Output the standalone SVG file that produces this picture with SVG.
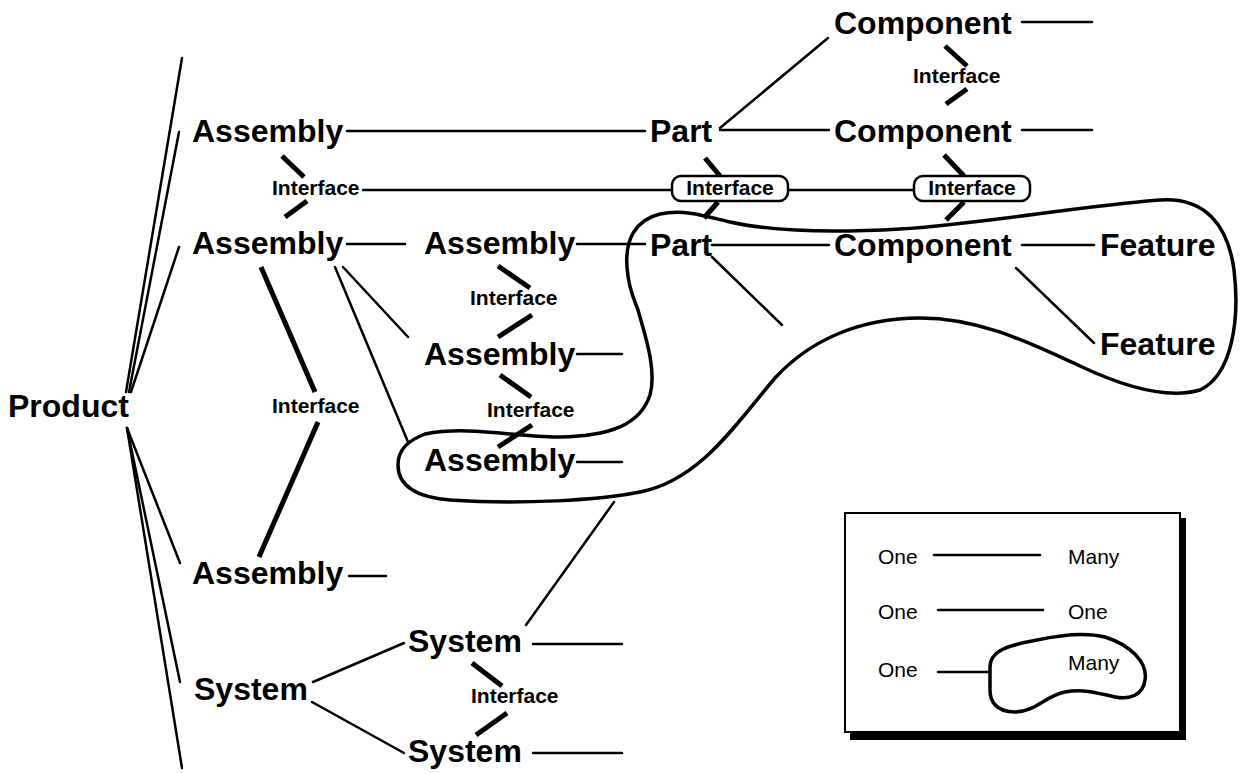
<svg xmlns="http://www.w3.org/2000/svg" width="1244" height="773" viewBox="0 0 1244 773">
<style>
.big{font-family:"Liberation Sans",Arial,sans-serif;font-weight:bold;font-size:32px;fill:#000}
.sm{font-family:"Liberation Sans",Arial,sans-serif;font-weight:bold;font-size:21px;fill:#000}
.lg{font-family:"Liberation Sans",Arial,sans-serif;font-size:21px;fill:#000}
.thin{stroke:#000;stroke-width:2.5;fill:none;stroke-linecap:round}
.thick{stroke:#000;stroke-width:5;fill:none}
.blob{stroke:#000;stroke-width:3.5;fill:none}
.box{stroke:#000;stroke-width:2.5;fill:#fff}
</style>
<rect width="1244" height="773" fill="#fff"/>
<g id="connectors">
  <!-- Product fan -->
  <line class="thin" x1="126" y1="392" x2="182" y2="58"/>
  <line class="thin" x1="129" y1="392" x2="179" y2="132"/>
  <line class="thin" x1="131" y1="392" x2="179" y2="247"/>
  <line class="thin" x1="127" y1="428" x2="180" y2="563"/>
  <line class="thin" x1="127" y1="428" x2="180" y2="682"/>
  <line class="thin" x1="127" y1="428" x2="182" y2="768"/>
  <!-- row 1 -->
  <line class="thin" x1="347" y1="131" x2="645" y2="131"/>
  <line class="thin" x1="720" y1="130" x2="829" y2="130"/>
  <line class="thin" x1="720" y1="128" x2="828" y2="38"/>
  <line class="thin" x1="1022" y1="22" x2="1092" y2="22"/>
  <line class="thin" x1="1022" y1="130" x2="1092" y2="130"/>
  <!-- interface row -->
  <line class="thin" x1="363" y1="190" x2="672" y2="190"/>
  <line class="thin" x1="788" y1="190" x2="914" y2="190"/>
  <!-- row 2 -->
  <line class="thin" x1="347" y1="244" x2="405" y2="244"/>
  <line class="thin" x1="577" y1="244" x2="645" y2="244"/>
  <line class="thin" x1="712" y1="245" x2="829" y2="245"/>
  <line class="thin" x1="1022" y1="245" x2="1094" y2="245"/>
  <line class="thin" x1="1016" y1="268" x2="1094" y2="343"/>
  <line class="thin" x1="712" y1="257" x2="782" y2="325"/>
  <line class="thin" x1="343" y1="267" x2="408" y2="337"/>
  <line class="thin" x1="335" y1="267" x2="408" y2="442"/>
  <line class="thin" x1="577" y1="354" x2="622" y2="354"/>
  <line class="thin" x1="577" y1="462" x2="622" y2="462"/>
  <line class="thin" x1="349" y1="576" x2="386" y2="576"/>
  <!-- systems -->
  <line class="thin" x1="313" y1="682" x2="404" y2="643"/>
  <line class="thin" x1="312" y1="702" x2="404" y2="753"/>
  <line class="thin" x1="533" y1="644" x2="622" y2="644"/>
  <line class="thin" x1="533" y1="753" x2="622" y2="753"/>
  <line class="thin" x1="526" y1="625" x2="614" y2="502"/>
  <!-- interface ticks -->
  <line class="thick" x1="945" y1="46" x2="967" y2="66"/>
  <line class="thick" x1="967" y1="89" x2="946" y2="104"/>
  <line class="thick" x1="282" y1="156" x2="304" y2="177"/>
  <line class="thick" x1="307" y1="201" x2="285" y2="217"/>
  <line class="thick" x1="705" y1="158" x2="720" y2="176"/>
  <line class="thick" x1="718" y1="202" x2="704" y2="218"/>
  <line class="thick" x1="944" y1="155" x2="964" y2="176"/>
  <line class="thick" x1="964" y1="202" x2="946" y2="220"/>
  <line class="thick" x1="498" y1="266" x2="530" y2="288"/>
  <line class="thick" x1="532" y1="315" x2="498" y2="337"/>
  <line class="thick" x1="500" y1="375" x2="531" y2="397"/>
  <line class="thick" x1="532" y1="425" x2="498" y2="447"/>
  <line class="thick" x1="261" y1="267" x2="315" y2="392"/>
  <line class="thick" x1="318" y1="422" x2="259" y2="557"/>
  <line class="thick" x1="472" y1="663" x2="502" y2="686"/>
  <line class="thick" x1="507" y1="713" x2="476" y2="735"/>
  <!-- many-grouping outline -->
  <path class="blob" d="M 627,267 C 625,240 635,220 660,214 C 685,209 705,216 730,222 C 770,231 830,233 900,229 C 980,224 1080,206 1160,200 C 1205,197 1228,225 1234,270 C 1240,320 1232,375 1200,390 C 1165,400 1120,385 1080,366 C 1030,343 980,318 920,318 C 860,318 810,340 775,378 C 735,425 700,480 640,492 C 600,500 520,505 450,500 C 415,497 398,485 398,465 C 398,448 410,440 425,434 C 470,425 520,438 560,437 C 610,436 640,425 650,395 C 657,370 645,335 638,310 C 630,290 628,280 627,267 Z"/>
</g>
<g id="product"><text class="big" x="8" y="417">Product</text></g>
<g id="assembly-1"><text class="big" x="192" y="142">Assembly</text></g>
<g id="assembly-2"><text class="big" x="192" y="254">Assembly</text></g>
<g id="assembly-3"><text class="big" x="192" y="584">Assembly</text></g>
<g id="assembly-4"><text class="big" x="424" y="254">Assembly</text></g>
<g id="assembly-5"><text class="big" x="424" y="365">Assembly</text></g>
<g id="assembly-6"><text class="big" x="424" y="471">Assembly</text></g>
<g id="part-1"><text class="big" x="650" y="142">Part</text></g>
<g id="part-2"><text class="big" x="650" y="256">Part</text></g>
<g id="component-1"><text class="big" x="834" y="34">Component</text></g>
<g id="component-2"><text class="big" x="834" y="142">Component</text></g>
<g id="component-3"><text class="big" x="834" y="256">Component</text></g>
<g id="feature-1"><text class="big" x="1100" y="256">Feature</text></g>
<g id="feature-2"><text class="big" x="1100" y="355">Feature</text></g>
<g id="system-1"><text class="big" x="194" y="700">System</text></g>
<g id="system-2"><text class="big" x="408" y="652">System</text></g>
<g id="system-3"><text class="big" x="408" y="762">System</text></g>
<g id="interface-1"><text class="sm" x="913" y="83">Interface</text></g>
<g id="interface-2"><text class="sm" x="272" y="195">Interface</text></g>
<g id="interface-3"><rect class="box" x="672" y="176" width="116" height="25" rx="9"/><text class="sm" x="730" y="195" text-anchor="middle">Interface</text></g>
<g id="interface-4"><rect class="box" x="914" y="176" width="116" height="25" rx="9"/><text class="sm" x="972" y="195" text-anchor="middle">Interface</text></g>
<g id="interface-5"><text class="sm" x="470" y="305">Interface</text></g>
<g id="interface-6"><text class="sm" x="487" y="417">Interface</text></g>
<g id="interface-7"><text class="sm" x="272" y="413">Interface</text></g>
<g id="interface-8"><text class="sm" x="471" y="703">Interface</text></g>
<g id="legend">
  <rect x="850" y="518" width="336" height="222" fill="#000"/>
  <rect x="845" y="513" width="335" height="219" fill="#fff" stroke="#000" stroke-width="2"/>
  <text class="lg" x="878" y="564">One</text>
  <line class="thin" x1="934" y1="555" x2="1040" y2="555" stroke-width="2"/>
  <text class="lg" x="1068" y="564">Many</text>
  <text class="lg" x="878" y="619">One</text>
  <line class="thin" x1="938" y1="610" x2="1043" y2="610" stroke-width="2"/>
  <text class="lg" x="1068" y="619">One</text>
  <text class="lg" x="878" y="677">One</text>
  <line class="thin" x1="938" y1="672" x2="990" y2="672"/>
  <path class="blob" stroke-width="2.5" d="M 990,667 C 990,650 1010,645 1037,640 C 1060,635 1085,632 1105,637 C 1130,645 1148,662 1145,680 C 1143,695 1130,700 1115,697 C 1100,694 1085,688 1065,692 C 1045,696 1035,712 1015,712 C 995,712 990,700 990,690 Z"/>
  <text class="lg" x="1068" y="670">Many</text>
</g>
</svg>
